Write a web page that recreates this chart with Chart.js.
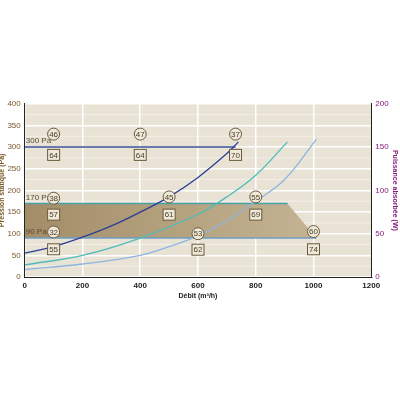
<!DOCTYPE html><html><head><script src="https://cdn.jsdelivr.net/npm/chart.js"></script>
<style>body{margin:0;background:#fff}#w{position:absolute;left:-2px;top:98px;width:402px;height:202px}</style></head><body><div id="w"><canvas id="c"></canvas></div><script>
const darkCurve=[[0,55],[100,70],[200,92],[300,118],[400,150],[500,185],[600,230],[700,285],[740,312]];
const tealCurve=[[0,28],[200,50],[400,90],[600,145],[700,185],[800,235],[910,312]];
const lightCurve=[[0,17],[200,30],[400,50],[500,70],[600,95],[700,130],[800,175],[900,225],[1010,318]];
const line300=[[0,300],[730,300]],line170=[[0,170],[910,170]],line90=[[0,90],[1010,90]];
const zoneTop=[[0,170],[910,170],[1010,90]],zoneBottom=[[0,90],[1010,90]];
const circles=[[100,330,'46'],[400,330,'47'],[730,330,'37'],[100,182,'38'],[500,185,'45'],[800,185,'55'],[100,104,'32'],[600,100,'53'],[1000,105,'60']];
const boxes=[[100,282,'64'],[400,282,'64'],[730,282,'70'],[100,144,'57'],[500,144,'61'],[800,144,'69'],[100,64,'55'],[600,63,'62'],[1000,64,'74']];
const lineLabels=[[0,300,'300 Pa'],[0,170,'170 Pa'],[0,90,'90 Pa']];
const xTicks=[0,200,400,600,800,1000,1200];
const pt=a=>a.map(p=>({x:p[0],y:p[1]}));
const ann={id:'ann',afterDatasetsDraw(ch){const c=ch.ctx,x=ch.scales.x,y=ch.scales.y;c.save();c.font='8px Liberation Sans';c.textBaseline='middle';
lineLabels.forEach(l=>{c.fillStyle='#5a4a30';c.textAlign='left';c.fillText(l[2],x.getPixelForValue(l[0])+1,y.getPixelForValue(l[1])-6);});c.textAlign='center';
circles.forEach(p=>{const px=x.getPixelForValue(p[0]),py=y.getPixelForValue(p[1]);c.beginPath();c.arc(px,py,6,0,7);c.fillStyle='#efe9dc';c.fill();c.strokeStyle='#6b5a3a';c.lineWidth=1;c.stroke();c.fillStyle='#4a3a20';c.fillText(p[2],px,py+0.5);});
boxes.forEach(p=>{const px=x.getPixelForValue(p[0]),py=y.getPixelForValue(p[1]);c.fillStyle='#efe9dc';c.fillRect(px-6,py-5.5,12,11);c.strokeStyle='#6b5a3a';c.strokeRect(px-6,py-5.5,12,11);c.fillStyle='#4a3a20';c.fillText(p[2],px,py+0.5);});c.restore();}};
const bg={id:'bg',beforeDraw(ch){const a=ch.chartArea,c=ch.ctx;c.save();c.fillStyle='#e9e3d6';c.fillRect(a.left,a.top,a.right-a.left,a.bottom-a.top);c.strokeStyle='rgba(255,255,255,0.6)';c.lineWidth=0.8;const y=ch.scales.y;for(let v=25;v<400;v+=50){const py=y.getPixelForValue(v);c.beginPath();c.moveTo(a.left,py);c.lineTo(a.right,py);c.stroke();}c.restore();}};
const L=(d,col,w,o)=>({data:pt(d),borderColor:col,borderWidth:w||1.3,pointRadius:0,tension:0.4,fill:false,order:o||1});
new Chart(document.getElementById('c'),{type:'line',plugins:[bg,ann],data:{datasets:[
{data:pt(zoneTop),order:10,borderColor:'rgba(0,0,0,0)',pointRadius:0,tension:0,fill:'+1',backgroundColor:ctx=>{const a=ctx.chart.chartArea;if(!a)return '#a89470';const g=ctx.chart.ctx.createLinearGradient(a.left,0,a.right,0);g.addColorStop(0,'#a38d68');g.addColorStop(0.8,'#c2b291');return g;}},
{data:pt(zoneBottom),order:11,borderColor:'rgba(0,0,0,0)',pointRadius:0,fill:false},
L(line300,'#3a4f98',1.5,2),L(line170,'#4aa3a8',1.5,2),L(line90,'#6f9ec4',1.5,2),
L(darkCurve,'#2b3f95'),L(tealCurve,'#4fbcbc'),L(lightCurve,'#8fb4e0')]},
options:{animation:false,responsive:true,maintainAspectRatio:false,layout:{padding:{top:2,right:0,bottom:0}},plugins:{legend:{display:false},tooltip:{enabled:false}},
scales:{x:{type:'linear',min:0,max:1200,afterBuildTicks:s=>{s.ticks=xTicks.map(v=>({value:v}))},grid:{color:'#fff',lineWidth:1.5,tickLength:3},border:{color:'#222'},ticks:{padding:1,callback:v=>String(v),color:'#222',font:{size:8,weight:'bold',family:'Liberation Sans'},maxRotation:0},title:{display:true,text:'Débit (m³/h)',color:'#222',font:{size:7,weight:'bold',family:'Liberation Sans'},padding:0}},
y:{min:0,max:400,ticks:{padding:1,stepSize:50,color:'#7a5a2a',font:{size:8,family:'Liberation Sans'}},grid:{color:'#fff',lineWidth:1.5,tickLength:3},border:{color:'#222'},title:{display:true,text:'Pression statique (Pa)',color:'#7a5a2a',font:{size:7,weight:'bold',family:'Liberation Sans'},padding:0}},
y2:{position:'right',min:0,max:200,ticks:{padding:1,stepSize:50,color:'#8a1a7a',font:{size:8,family:'Liberation Sans'}},grid:{display:false,tickLength:3},border:{color:'#222'},title:{display:true,text:'Puissance absorbée (W)',color:'#8a1a7a',font:{size:7,weight:'bold',family:'Liberation Sans'},padding:1}}}}});
</script></body></html>
